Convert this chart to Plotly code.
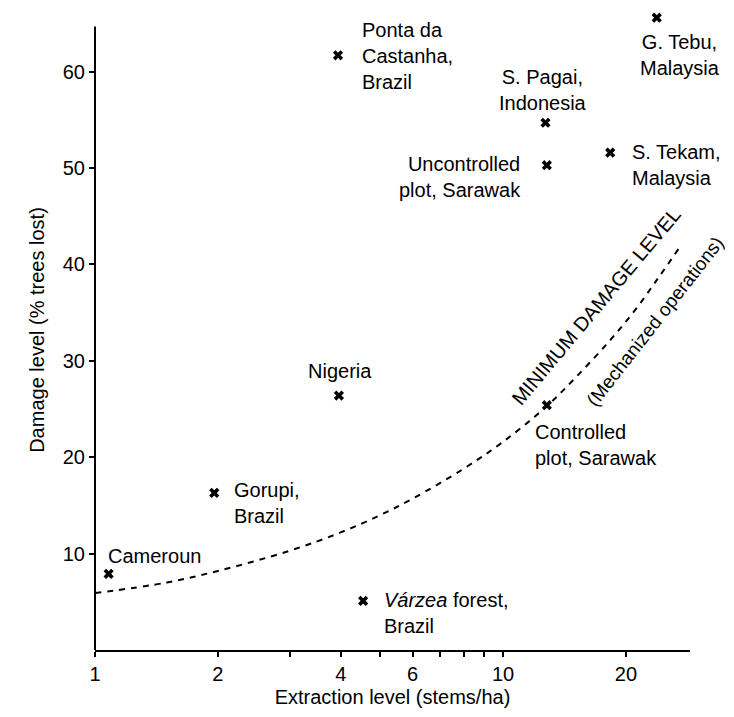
import math
import plotly.graph_objects as go

# ---- data ----
site_names = ["Cameroun", "Gorupi", "Nigeria", "Varzea", "Controlled", "Uncontrolled",
              "S. Pagai", "S. Tekam", "Ponta", "G. Tebu"]
extraction = [1.08, 1.96, 3.96, 4.54, 12.8, 12.8, 12.7, 18.3, 3.94, 23.8]
damage = [7.9, 16.3, 26.4, 5.1, 25.4, 50.3, 54.7, 51.6, 61.7, 65.6]
site_labels = [
    "Cameroun",
    "Gorupi,<br>Brazil",
    "Nigeria",
    "<i>Várzea</i> forest,<br>Brazil",
    "Controlled<br>plot, Sarawak",
    "Uncontrolled<br>plot, Sarawak",
    "S. Pagai,<br>Indonesia",
    "S. Tekam,<br>Malaysia",
    "Ponta da<br>Castanha,<br>Brazil",
    "G. Tebu,<br>Malaysia",
]

curve_x = [1.0, 1.5, 2.0, 3.0, 4.0, 5.0, 6.0, 8.0, 10.0, 12.8, 15.0, 18.0, 21.0, 24.0, 27.0]
curve_y = [5.9, 7.0, 8.2, 10.3, 12.2, 14.0, 15.7, 18.8, 21.6, 25.3, 28.2, 31.8, 35.2, 38.6, 41.7]

x_tickvals = [1, 2, 4, 6, 10, 20]
x_minor_ticks = [3, 5, 7, 8, 9]
y_tickvals = [10, 20, 30, 40, 50, 60]
y_axis_top = 64.7      # where the drawn y-axis line stops
y_range = [0, 66.4]    # view range (lets the G. Tebu point sit above the axis line)

# ---- label placement (pixel offsets from each point) ----
label_style = {
    "Cameroun": dict(xanchor="left", align="left", xshift=-3, yshift=18),
    "Gorupi": dict(xanchor="left", align="left", xshift=18, yshift=-10),
    "Nigeria": dict(xanchor="center", align="center", xshift=1, yshift=25),
    "Varzea": dict(xanchor="left", align="left", xshift=19, yshift=-12),
    "Controlled": dict(xanchor="left", align="left", xshift=-14, yshift=-40),
    "Uncontrolled": dict(xanchor="right", align="right", xshift=-24, yshift=-12),
    "S. Pagai": dict(xanchor="center", align="center", xshift=-2, yshift=33),
    "S. Tekam": dict(xanchor="left", align="left", xshift=20, yshift=-12),
    "Ponta": dict(xanchor="left", align="left", xshift=22, yshift=-1),
    "G. Tebu": dict(xanchor="center", align="center", xshift=23, yshift=-37),
}

FONT = "Liberation Sans, Arial, Helvetica, sans-serif"
FS = 20

fig = go.Figure()

fig.add_trace(go.Scatter(
    x=curve_x, y=curve_y, mode="lines",
    line=dict(color="black", width=2, dash="6px,6px", shape="spline"),
    hoverinfo="skip", showlegend=False,
))

fig.add_trace(go.Scatter(
    x=extraction, y=damage, mode="markers",
    marker=dict(symbol="x", size=9, color="black", line=dict(width=0)),
    cliponaxis=False, showlegend=False,
))

for name, xv, yv, lab in zip(site_names, extraction, damage, site_labels):
    st = label_style[name]
    fig.add_annotation(x=math.log10(xv), y=yv, xref="x", yref="y", text=lab, showarrow=False,
                       yanchor="middle", font=dict(family=FONT, size=FS, color="black"),
                       **st)

# curve labels, anchored to a point on the curve
anchor_i = 13
fig.add_annotation(x=math.log10(curve_x[anchor_i]), y=curve_y[anchor_i], text="MINIMUM DAMAGE LEVEL",
                   showarrow=False, textangle=-50, xshift=-62, yshift=-28,
                   font=dict(family=FONT, size=20, color="black"))
fig.add_annotation(x=math.log10(curve_x[anchor_i]), y=curve_y[anchor_i], text="(Mechanized operations)",
                   showarrow=False, textangle=-52, xshift=-3, yshift=-44,
                   font=dict(family=FONT, size=19, color="black"))

# y-axis line (stops below the top of the view range)
fig.add_shape(type="line", xref="paper", yref="y", x0=0, x1=0, y0=0, y1=y_axis_top,
              line=dict(color="black", width=2))

fig.update_xaxes(
    type="log", range=[0, 1.458], automargin=False,
    tickvals=x_tickvals, ticktext=[str(v) for v in x_tickvals],
    ticks="outside", ticklen=5, tickwidth=1.5, tickcolor="black",
    minor=dict(tickvals=x_minor_ticks, ticks="outside", ticklen=5, tickwidth=1.5, tickcolor="black"),
    showline=True, linecolor="black", linewidth=2, showgrid=False, zeroline=False,
    tickfont=dict(family=FONT, size=FS, color="black"),
    title=dict(text="Extraction level (stems/ha)", font=dict(family=FONT, size=FS, color="black"),
               standoff=6),
)
fig.update_yaxes(
    range=y_range, tickvals=y_tickvals, automargin=False,
    ticks="outside", ticklen=5, tickwidth=1.5, tickcolor="black",
    showline=False, showgrid=False, zeroline=False,
    tickfont=dict(family=FONT, size=FS, color="black"),
    title=dict(text="Damage level (% trees lost)", font=dict(family=FONT, size=FS, color="black"),
               standoff=12),
)

fig.update_layout(
    width=734, height=717,
    margin=dict(l=87, r=52, t=2, b=75),
    plot_bgcolor="white", paper_bgcolor="white",
    showlegend=False,
)

fig.write_html("out.html")
